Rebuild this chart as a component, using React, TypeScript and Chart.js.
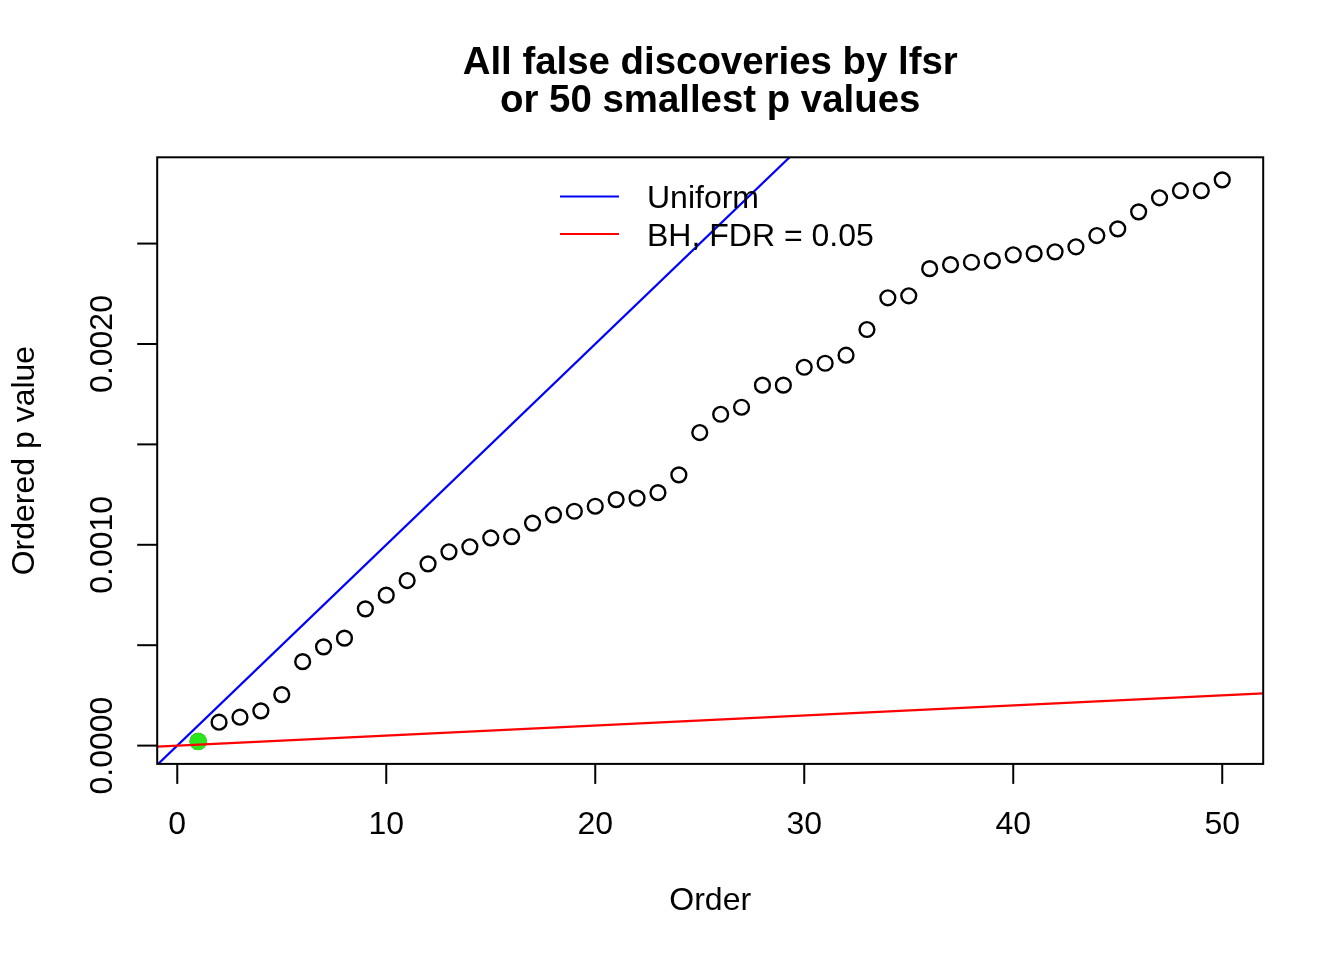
import React, { useEffect, useRef } from 'react';
import { Chart, registerables } from 'chart.js';

Chart.register(...registerables);

// ---------- data ----------
const orders = [
  1, 2, 3, 4, 5, 6, 7, 8, 9, 10, 11, 12, 13, 14, 15, 16, 17, 18, 19, 20, 21, 22, 23, 24, 25,
  26, 27, 28, 29, 30, 31, 32, 33, 34, 35, 36, 37, 38, 39, 40, 41, 42, 43, 44, 45, 46, 47, 48, 49, 50,
];
const pValues = [
  0.0000208, 0.0001165, 0.0001414, 0.0001728, 0.000254, 0.000418, 0.0004915, 0.000535, 0.000681, 0.000749,
  0.000822, 0.000905, 0.000965, 0.00099, 0.001034, 0.001041, 0.001108, 0.001149, 0.001167, 0.001192,
  0.001225, 0.001232, 0.00126, 0.001348, 0.001559, 0.00165, 0.001685, 0.001795, 0.001795, 0.001884,
  0.001904, 0.001944, 0.002072, 0.00223, 0.00224, 0.002375, 0.002395, 0.002407, 0.002415, 0.002444,
  0.00245, 0.002459, 0.002484, 0.00254, 0.002573, 0.002658, 0.002728, 0.002764, 0.002764, 0.002817,
];
const highlightOrders = [1];
const highlightP = [0.0000208];

const nTests = 10000;
const fdrLevel = 0.05;

const xLimits = [-0.96, 51.96];
const yLimits = [-0.0000911, 0.0029296];

const xTicks = [0, 10, 20, 30, 40, 50];
const xTickLabels = ['0', '10', '20', '30', '40', '50'];
const yTicks = [0, 0.0005, 0.001, 0.0015, 0.002, 0.0025];
const yTickLabels = ['0.0000', '', '0.0010', '', '0.0020', ''];

const titleLines = ['All false discoveries by lfsr', 'or 50 smallest p values'];
const xAxisTitle = 'Order';
const yAxisTitle = 'Ordered p value';
const legendLabels = ['Uniform', 'BH, FDR = 0.05'];
const legendColors = ['#0000FF', '#FF0000'];

const FONT = '"Liberation Sans", Arial, Helvetica, sans-serif';

const rAxesPlugin = {
  id: 'rAxes',
  afterDraw(chart: any) {
    const { ctx, chartArea, scales } = chart;
    const xs = scales.x;
    const ys = scales.y;
    ctx.save();
    ctx.strokeStyle = '#000';
    ctx.fillStyle = '#000';
    ctx.lineWidth = 2;
    // box
    ctx.strokeRect(chartArea.left, chartArea.top, chartArea.right - chartArea.left, chartArea.bottom - chartArea.top);

    // x ticks
    ctx.font = `32px ${FONT}`;
    ctx.textAlign = 'center';
    ctx.textBaseline = 'alphabetic';
    xTicks.forEach((t, i) => {
      const px = xs.getPixelForValue(t);
      ctx.beginPath();
      ctx.moveTo(px, chartArea.bottom);
      ctx.lineTo(px, chartArea.bottom + 20);
      ctx.stroke();
      ctx.fillText(xTickLabels[i], px, 834);
    });

    // y ticks
    yTicks.forEach((t, i) => {
      const py = ys.getPixelForValue(t);
      ctx.beginPath();
      ctx.moveTo(chartArea.left, py);
      ctx.lineTo(chartArea.left - 20, py);
      ctx.stroke();
      if (yTickLabels[i]) {
        ctx.save();
        ctx.translate(112, py);
        ctx.rotate(-Math.PI / 2);
        ctx.fillText(yTickLabels[i], 0, 0);
        ctx.restore();
      }
    });

    // axis titles
    const cx = (chartArea.left + chartArea.right) / 2;
    const cy = (chartArea.top + chartArea.bottom) / 2;
    ctx.fillText(xAxisTitle, cx, 910);
    ctx.save();
    ctx.translate(34, cy);
    ctx.rotate(-Math.PI / 2);
    ctx.fillText(yAxisTitle, 0, 0);
    ctx.restore();

    // title
    ctx.font = `bold 38.4px ${FONT}`;
    ctx.fillText(titleLines[0], cx, 74);
    ctx.fillText(titleLines[1], cx, 112);

    // legend
    ctx.font = `32px ${FONT}`;
    ctx.textAlign = 'left';
    const legendY = [196.5, 234];
    legendLabels.forEach((lab, i) => {
      ctx.strokeStyle = legendColors[i];
      ctx.lineWidth = 2.2;
      ctx.beginPath();
      ctx.moveTo(560, legendY[i]);
      ctx.lineTo(619, legendY[i]);
      ctx.stroke();
      ctx.fillText(lab, 647, legendY[i] + 11.5);
    });
    ctx.restore();
  },
};

export default function App() {
  const ref = useRef<HTMLCanvasElement | null>(null);
  useEffect(() => {
    document.body.style.margin = '0';
    const canvas = ref.current;
    if (!canvas) return;
    const lineData = (slope: number) => [
      { x: xLimits[0], y: xLimits[0] * slope },
      { x: xLimits[1], y: xLimits[1] * slope },
    ];
    const chart = new Chart(canvas, {
      type: 'scatter',
      data: {
        datasets: [
          {
            label: legendLabels[1],
            data: lineData(fdrLevel / nTests),
            showLine: true,
            borderColor: legendColors[1],
            borderWidth: 2.2,
            pointRadius: 0,
            clip: 0,
          },
          {
            label: legendLabels[0],
            data: lineData(1 / nTests),
            showLine: true,
            borderColor: legendColors[0],
            borderWidth: 2.2,
            pointRadius: 0,
            clip: 0,
          },
          {
            label: 'highlight',
            data: highlightOrders.map((x, i) => ({ x, y: highlightP[i] })),
            pointRadius: 8.8,
            pointBorderWidth: 0,
            backgroundColor: '#2BE61C',
            borderColor: '#2BE61C',
          },
          {
            label: 'p values',
            data: orders.map((x, i) => ({ x, y: pValues[i] })),
            pointRadius: 7.4,
            pointBorderWidth: 2.4,
            backgroundColor: 'rgba(0,0,0,0)',
            borderColor: '#000',
          },
        ],
      } as any,
      options: {
        animation: false,
        responsive: false,
        devicePixelRatio: 1,
        layout: { padding: { left: 157.2, top: 157.3, right: 1344 - 1263.2, bottom: 960 - 763.9 } },
        scales: {
          x: { type: 'linear', display: false, min: xLimits[0], max: xLimits[1] },
          y: { type: 'linear', display: false, min: yLimits[0], max: yLimits[1] },
        },
        plugins: { legend: { display: false }, tooltip: { enabled: false }, title: { display: false } },
        events: [],
      } as any,
      plugins: [rAxesPlugin],
    });
    return () => chart.destroy();
  }, []);
  return (
    <div style={{ width: 1344, height: 960, background: '#fff' }}>
      <canvas ref={ref} width={1344} height={960} style={{ display: 'block' }} />
    </div>
  );
}
